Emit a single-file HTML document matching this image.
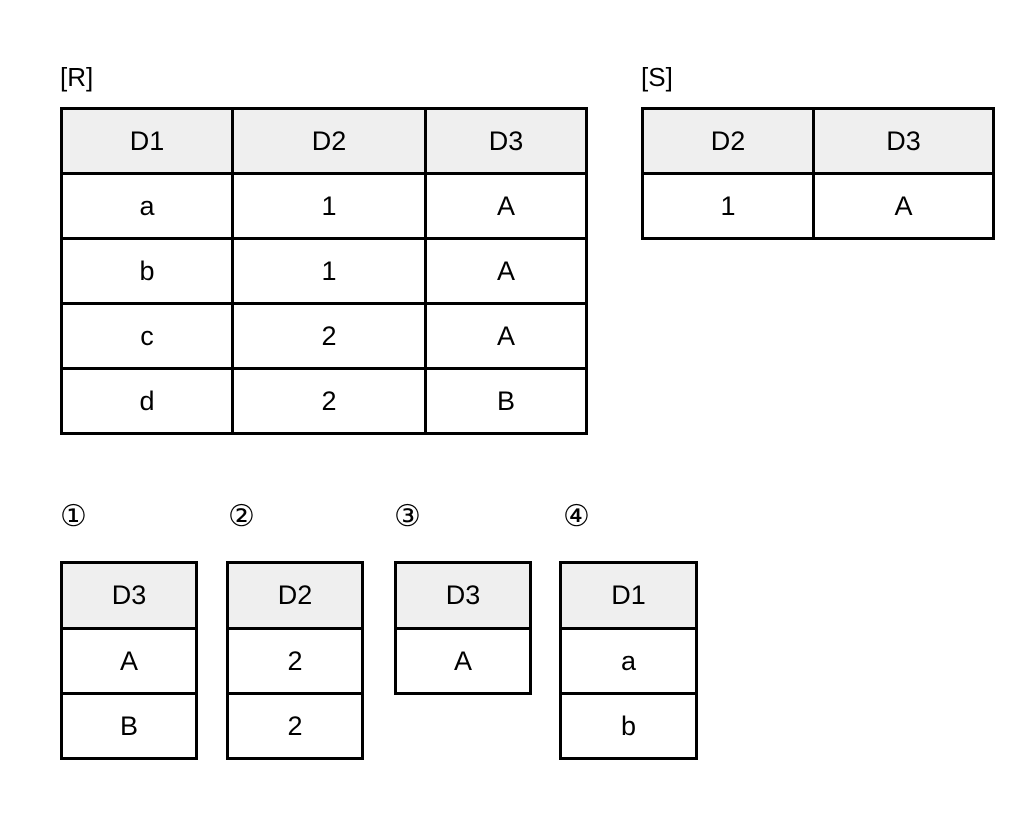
<!DOCTYPE html>
<html><head><meta charset="utf-8"><style>
body{margin:0;width:1019px;height:836px;background:#fff;position:relative;font-family:"Liberation Sans","DejaVu Sans",sans-serif;overflow:hidden}
.c{position:absolute;box-sizing:border-box;border:3px solid #000;display:flex;align-items:center;justify-content:center;font-size:27px;color:#000}
.h{background:#efefef}
.l{position:absolute;font-size:26px;color:#000}
.n{position:absolute;font-size:30px;color:#000;font-family:"DejaVu Sans",sans-serif;line-height:30px}
</style></head><body>
<div class="l" style="left:60px;top:62px">[R]</div>
<div class="l" style="left:641px;top:62px">[S]</div>
<div class="n" style="left:60px;top:502px">①</div>
<div class="n" style="left:228px;top:502px">②</div>
<div class="n" style="left:394px;top:502px">③</div>
<div class="n" style="left:563px;top:502px">④</div>
<script>
function tbl(name,xs,ys,rows){
  for(var r=0;r<rows.length;r++){
    for(var c=0;c<rows[r].length;c++){
      var d=document.createElement('div');
      d.className='c'+(r===0?' h':'');
      d.style.left=xs[c]+'px';d.style.top=ys[r]+'px';
      d.style.width=(xs[c+1]-xs[c]+3)+'px';d.style.height=(ys[r+1]-ys[r]+3)+'px';
      d.textContent=rows[r][c];
      
      
      document.body.appendChild(d);
    }
  }
}
tbl('table-r',[60,231,424,585],[107,172,237,302,367,432],[['D1','D2','D3'],['a','1','A'],['b','1','A'],['c','2','A'],['d','2','B']]);
tbl('table-s',[641,812,992],[107,172,237],[['D2','D3'],['1','A']]);
tbl('option-1-table',[60,195],[561,627,692,757],[['D3'],['A'],['B']]);
tbl('option-2-table',[226,361],[561,627,692,757],[['D2'],['2'],['2']]);
tbl('option-3-table',[394,529],[561,627,692],[['D3'],['A']]);
tbl('option-4-table',[559,695],[561,627,692,757],[['D1'],['a'],['b']]);
</script>
</body></html>
